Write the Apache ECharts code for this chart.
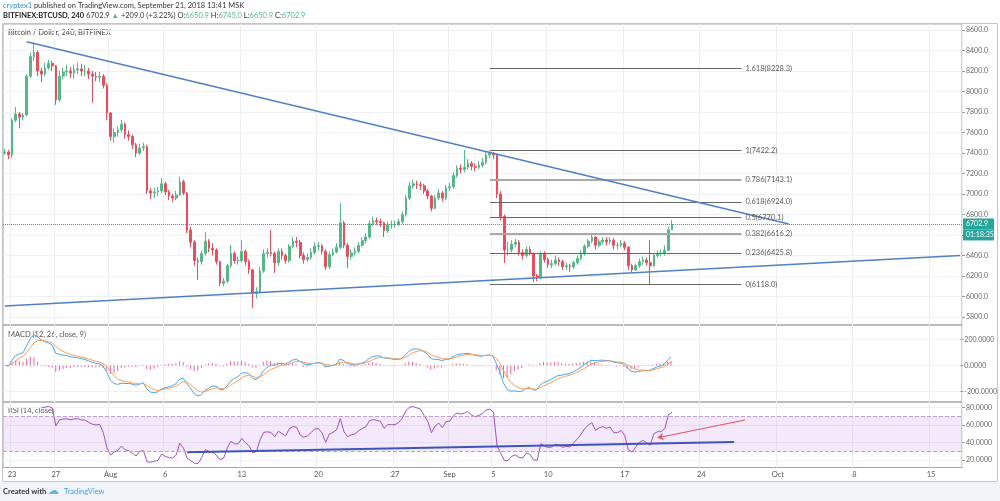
<!DOCTYPE html>
<html>
<head>
<meta charset="utf-8">
<title>BTCUSD 240</title>
<script src="https://cdn.jsdelivr.net/npm/echarts@6/dist/echarts.min.js"></script>
<style>
  html, body { margin: 0; padding: 0; background: #fff; }
  #chart { width: 1000px; height: 501px; }
</style>
</head>
<body>
<div id="chart"></div>
<script>
// bars, regrouped to 8h (first bar 2018-07-22 08:00 UTC)
var firstOpen = 7400
var closes = [
  7410, 7380, 7720, 7780, 7750, 7770, 8150, 8340, 8380, 8200,
  8170, 8230, 8275, 8250, 7920, 8150, 8190, 8200, 8180, 8210,
  8220, 8200, 8200, 8170, 8150, 8140, 8150, 8060, 7790, 7560,
  7600, 7625, 7680, 7580, 7560, 7480, 7400, 7450, 7460, 7030,
  7010, 7020, 7030, 7100, 7020, 6980, 6960, 6990, 7120, 7010,
  6650, 6530, 6350, 6340, 6420, 6540, 6470, 6454, 6340, 6130,
  6150, 6300, 6420, 6350, 6350, 6440, 6340, 6260, 6030, 6050,
  6250, 6420, 6430, 6420, 6330, 6440, 6400, 6350, 6490, 6540,
  6530, 6400, 6360, 6380, 6430, 6490, 6495, 6440, 6290, 6410,
  6435, 6480, 6720, 6500, 6390, 6425, 6440, 6500, 6545, 6580,
  6710, 6740, 6730, 6720, 6640, 6700, 6700, 6700, 6730, 6800,
  6960, 7080, 7100, 7090, 7080, 7030, 6980, 6860, 6960, 7010,
  6960, 7060, 7070, 7180, 7250, 7240, 7260, 7300, 7270, 7260,
  7280, 7310, 7380, 7397, 7380, 7000, 6780, 6454, 6454, 6510,
  6530, 6430, 6400, 6460, 6420, 6200, 6190, 6420, 6360, 6310,
  6320, 6356, 6340, 6290, 6300, 6290, 6330, 6370, 6420, 6490,
  6540, 6580, 6500, 6535, 6551, 6535, 6550, 6500, 6500, 6520,
  6480, 6300, 6260, 6300, 6340, 6356, 6330, 6300, 6400, 6420,
  6420, 6450, 6650.9, 6702.9
]
var highs = [
  7440, 7430, 7740, 7850, 7800, 7790, 8170, 8380, 8480, 8400,
  8230, 8280, 8310, 8300, 8260, 8200, 8230, 8260, 8240, 8260,
  8280, 8270, 8260, 8230, 8200, 8190, 8190, 8170, 8080, 7800,
  7640, 7660, 7722, 7700, 7620, 7580, 7500, 7490, 7500, 7480,
  7060, 7060, 7070, 7156, 7120, 7040, 7000, 7030, 7170, 7140,
  7020, 6680, 6550, 6380, 6450, 6629, 6560, 6520, 6470, 6350,
  6180, 6320, 6502, 6440, 6390, 6551, 6460, 6360, 6270, 6090,
  6290, 6460, 6470, 6649, 6440, 6470, 6470, 6420, 6510, 6580,
  6580, 6550, 6430, 6420, 6470, 6530, 6530, 6510, 6460, 6440,
  6470, 6520, 6912, 6740, 6520, 6460, 6480, 6530, 6580, 6620,
  6740, 6780, 6770, 6760, 6730, 6730, 6740, 6740, 6760, 6830,
  6990, 7120, 7140, 7130, 7120, 7100, 7050, 6990, 6990, 7050,
  7030, 7090, 7110, 7210, 7280, 7290, 7430, 7340, 7320, 7300,
  7320, 7350, 7410, 7420, 7410, 7390, 7030, 6800, 6530, 6550,
  6560, 6550, 6460, 6490, 6490, 6430, 6220, 6440, 6440, 6380,
  6360, 6400, 6380, 6360, 6330, 6320, 6350, 6400, 6450, 6510,
  6560, 6610, 6590, 6560, 6580, 6580, 6580, 6570, 6530, 6550,
  6540, 6490, 6320, 6320, 6370, 6390, 6380, 6551, 6420, 6450,
  6460, 6500, 6680, 6745
]
var lows = [
  7380, 7340, 7350, 7700, 7640, 7720, 7760, 8130, 8300, 8150,
  8090, 8150, 8210, 8200, 7870, 7900, 8120, 8150, 8130, 8120,
  8170, 8150, 8150, 8120, 7890, 8100, 8090, 8030, 7720, 7520,
  7500, 7560, 7600, 7540, 7520, 7440, 7360, 7380, 7420, 7000,
  6950, 6960, 6980, 7010, 6990, 6940, 6920, 6940, 6980, 6990,
  6620, 6480, 6300, 6161, 6310, 6400, 6430, 6400, 6310, 6100,
  6100, 6130, 6280, 6320, 6310, 6330, 6300, 6220, 5888, 5980,
  6030, 6230, 6380, 6390, 6230, 6300, 6360, 6320, 6330, 6470,
  6480, 6370, 6320, 6340, 6360, 6410, 6450, 6410, 6258, 6270,
  6390, 6420, 6460, 6470, 6278, 6360, 6400, 6420, 6480, 6520,
  6560, 6690, 6700, 6680, 6580, 6620, 6660, 6670, 6690, 6710,
  6780, 6940, 7050, 7050, 7040, 7000, 6950, 6830, 6850, 6940,
  6930, 6940, 7030, 7050, 7160, 7200, 7210, 7240, 7230, 7220,
  7240, 7260, 7290, 7350, 7340, 6960, 6740, 6327, 6400, 6430,
  6480, 6400, 6360, 6380, 6400, 6140, 6150, 6170, 6330, 6280,
  6280, 6300, 6300, 6260, 6260, 6240, 6270, 6310, 6350, 6400,
  6470, 6520, 6460, 6480, 6510, 6500, 6510, 6460, 6460, 6480,
  6450, 6260, 6240, 6250, 6280, 6310, 6300, 6112, 6290, 6380,
  6390, 6400, 6440, 6650.9
]
var lastPrice = 6702.9

// time axis ticks
var tickDates = ['2018-07-23', '2018-07-27', '2018-08-01', '2018-08-06', '2018-08-13',
  '2018-08-20', '2018-08-27', '2018-09-01', '2018-09-05', '2018-09-10', '2018-09-17',
  '2018-09-24', '2018-10-01', '2018-10-08', '2018-10-15']
var tickLabels = ['23', '27', 'Aug', '6', '13', '20', '27', 'Sep', '5', '10', '17', '24', 'Oct', '8', '15']

// fibonacci retracement
var fibRatios = ['1.618', '1', '0.786', '0.618', '0.5', '0.382', '0.236', '0']
var fibPrices = [8228.3, 7422.2, 7143.1, 6924.0, 6770.1, 6616.2, 6425.8, 6118.0]
var fibFrom = 133, fibTo = 202

// drawn trend lines, [bar index, value]
var downTrend = [[6, 8486], [215, 6707]]
var upTrend = [[0, 5908], [262, 6400]]
var rsiTrend = [[50, 28.8], [200, 40.4]]
var rsiArrow = [[203, 65.5], [179, 45.3]]

var SLOT = 8 * 3600 * 1000
var t0 = Date.UTC(2018, 6, 22, 8)
var categories = []
for (var i = 0; i < 263; i++) {
  categories.push(new Date(t0 + i * SLOT).toISOString().slice(0, 16).replace('T', ' '))
}
var tickKeys = tickDates.map(function (d) { return d + ' 00:00' })
function isTick(idx, val) { return tickKeys.indexOf(val) >= 0 }

var candles = closes.map(function (c, i) {
  var o = i ? closes[i - 1] : firstOpen
  return [o, c, lows[i], highs[i]]
})

// MACD 12/26/9 and RSI 14 of 4h bars, expressed on 8h bars
function ema(src, span) {
  var a = 2 / (span + 1), prev, out = []
  src.forEach(function (v, i) {
    prev = i ? prev + a * (v - prev) : v
    out.push(prev)
  })
  return out
}
var fast = ema(closes, 6.04)
var slow = ema(closes, 13)
var macd = fast.map(function (v, i) { return v - slow[i] })
var signal = ema(macd, 4.56)
var hist = macd.map(function (v, i) { return v - signal[i] })

function rsi(src, n) {
  var out = [], ag = 0, al = 0
  for (var i = 0; i < src.length; i++) {
    if (i === 0) { out.push('-'); continue }
    var ch = src[i] - src[i - 1]
    var g = Math.max(ch, 0), l = Math.max(-ch, 0)
    if (i <= n) {
      ag += g / n; al += l / n
      out.push(i === n ? 100 - 100 / (1 + ag / al) : '-')
    } else {
      ag = (ag * (n - 1) + g) / n
      al = (al * (n - 1) + l) / n
      out.push(al === 0 ? 100 : 100 - 100 / (1 + ag / al))
    }
  }
  return out
}
// the 8h bars hide the intrabar swings, so a slightly longer length keeps it as calm as the 4h one
var rsiValues = rsi(closes, 10)

var FONT = 'Lato'
var UP = '#53b987', DOWN = '#eb4d5c'

function xAxisFor(gridIndex, frame, labels) {
  return {
    type: 'category', gridIndex: gridIndex, data: categories, boundaryGap: true,
    show: frame,
    axisLine: { show: false },
    axisTick: { show: false },
    axisLabel: {
      show: labels, interval: isTick, margin: 3, fontSize: 7.5, color: '#555', fontFamily: FONT,
      formatter: function (val) { return tickLabels[tickKeys.indexOf(val)] }
    },
    splitLine: { show: frame, interval: isTick, lineStyle: { color: '#eceff3', width: 1 } }
  }
}
function priceAxis(gridIndex, min, max, interval, digits) {
  return {
    type: 'value', gridIndex: gridIndex, position: 'right', min: min, max: max, interval: interval,
    axisLine: { show: false },
    axisTick: { show: true, length: 3, lineStyle: { color: '#999' } },
    axisLabel: {
      margin: 4, fontSize: 7, color: '#666', fontFamily: FONT,
      formatter: function (v) { return v.toFixed(digits) }
    },
    splitLine: { show: true, lineStyle: { color: '#eef0f3' } }
  }
}
function frameAxis(gridIndex) {
  return { type: 'value', gridIndex: gridIndex, show: false, min: 0, max: 1, splitLine: { show: false } }
}
var frameGrid = { show: true, borderColor: '#a5a5a5', borderWidth: 1, left: 3, right: 38 }

var fibLines = fibPrices.map(function (p, i) {
  var light = fibRatios[i] === '0.786' || fibRatios[i] === '0.382'
  return [
    {
      coord: [fibFrom, p],
      lineStyle: { color: light ? '#a8a8a8' : '#666', width: light ? 2 : 1, type: 'solid' },
      label: {
        show: true, position: 'end', distance: 4, formatter: fibRatios[i] + '(' + p.toFixed(1) + ')',
        fontSize: 7.5, color: '#555', fontFamily: FONT
      }
    },
    { coord: [fibTo, p] }
  ]
})
var trendStyle = { color: '#4f80c4', width: 1.5, type: 'solid' }

var option = {
  animation: false,
  backgroundColor: '#fff',
  textStyle: { fontFamily: FONT },
  grid: [
    Object.assign({ top: 24, height: 301 }, frameGrid),
    { left: 3, right: 38, top: 30, height: 287 },
    Object.assign({ top: 325, height: 77 }, frameGrid),
    { left: 3, right: 38, top: 339.5, height: 52 },
    Object.assign({ top: 402, height: 65.5 }, frameGrid),
    { left: 3, right: 38, top: 407.3, height: 52.7 }
  ],
  xAxis: [
    xAxisFor(0, true, false), xAxisFor(1, false, false),
    xAxisFor(2, true, false), xAxisFor(3, false, false),
    xAxisFor(4, true, true), xAxisFor(5, false, false)
  ],
  yAxis: [
    frameAxis(0), priceAxis(1, 5800, 8600, 200, 1),
    frameAxis(2), priceAxis(3, -200, 200, 200, 4),
    frameAxis(4), priceAxis(5, 20, 80, 20, 4)
  ],
  series: [
    {
      type: 'candlestick', xAxisIndex: 1, yAxisIndex: 1, data: candles, barWidth: '60%',
      itemStyle: { color: UP, color0: DOWN, borderColor: UP, borderColor0: DOWN, borderWidth: 1 },
      markLine: {
        silent: true, symbol: ['none', 'none'], animation: false,
        label: { show: false },
        data: fibLines.concat([
          [{ coord: downTrend[0], lineStyle: trendStyle }, { coord: downTrend[1] }],
          [{ coord: upTrend[0], lineStyle: trendStyle }, { coord: upTrend[1] }],
          {
            yAxis: lastPrice,
            lineStyle: { color: '#26a69a', type: 'dotted', width: 1 },
            label: {
              show: true, position: 'end', distance: 1, padding: [10, 0, 0, 0],
              formatter: '{p|' + lastPrice.toFixed(1) + '}\n{t|01:18:35}',
              rich: {
                p: { backgroundColor: '#26a69a', color: '#fff', fontSize: 7, padding: [2, 3], width: 25, fontFamily: FONT },
                t: { backgroundColor: '#26a69a', color: '#fff', fontSize: 7, padding: [2, 3], width: 25, fontFamily: FONT }
              }
            }
          }
        ])
      }
    },
    {
      type: 'bar', name: 'hist', xAxisIndex: 3, yAxisIndex: 3, data: hist, barWidth: 1, clip: false,
      itemStyle: { color: '#ee6496' }
    },
    {
      type: 'line', name: 'macd', xAxisIndex: 3, yAxisIndex: 3, data: macd, showSymbol: false, clip: false,
      lineStyle: { color: '#47a6e8', width: 1 }
    },
    {
      type: 'line', name: 'signal', xAxisIndex: 3, yAxisIndex: 3, data: signal, showSymbol: false, clip: false,
      lineStyle: { color: '#f4a05a', width: 1 }
    },
    {
      type: 'line', name: 'rsi', xAxisIndex: 5, yAxisIndex: 5, data: rsiValues, showSymbol: false, clip: false,
      lineStyle: { color: '#a14fc2', width: 1 },
      markArea: {
        silent: true,
        itemStyle: { color: 'rgba(200,140,235,0.2)' },
        data: [[{ yAxis: 30 }, { yAxis: 70 }]]
      },
      markLine: {
        silent: true, symbol: ['none', 'none'], animation: false,
        label: { show: false },
        data: [
          { yAxis: 70, lineStyle: { color: '#bba3c9', type: 'dashed', width: 1 } },
          { yAxis: 30, lineStyle: { color: '#bba3c9', type: 'dashed', width: 1 } },
          [{ coord: rsiTrend[0], lineStyle: { color: '#3d55b8', width: 2, type: 'solid' } }, { coord: rsiTrend[1] }],
          [{ coord: rsiArrow[0], lineStyle: { color: '#e8575b', width: 1.2, type: 'solid' } },
            { coord: rsiArrow[1], symbol: 'arrow', symbolSize: 6 }]
        ]
      }
    }
  ],
  graphic: [
    { type: 'rect', silent: true, z: -1, shape: { x: 0, y: 482, width: 1000, height: 19 }, style: { fill: '#f0f3f8' } },
    { type: 'rect', silent: true, shape: { x: 2.5, y: 23.5, width: 995, height: 458 }, style: { fill: 'none', stroke: '#c4c4c4', lineWidth: 1 } },
    {
      type: 'text', x: 3, y: 6, silent: true,
      style: {
        text: '{u|cryptex1}{n| published on TradingView.com, September 21, 2018 13:41 MSK}',
        verticalAlign: 'middle', fontFamily: FONT,
        rich: { u: { fill: '#2a8fe0', fontSize: 7.5, fontFamily: FONT }, n: { fill: '#333', fontSize: 7.5, fontFamily: FONT } }
      }
    },
    {
      type: 'text', x: 3, y: 16, silent: true,
      style: {
        text: '{b|BITFINEX:BTCUSD, 240}{n| 6702.9 }{g|\u25B2}{n| +209.0 (+3.22%) O:}{g|6650.9}{n| H:}{g|6745.0}{n| L:}{g|6650.9}{n| C:}{g|6702.9}',
        verticalAlign: 'middle', fontFamily: FONT,
        rich: {
          b: { fill: '#222', fontSize: 7.5, fontWeight: 'bold', fontFamily: FONT },
          n: { fill: '#333', fontSize: 7.5, fontFamily: FONT },
          g: { fill: UP, fontSize: 7.5, fontFamily: FONT }
        }
      }
    },
    { type: 'text', x: 8, y: 33, silent: true, style: { text: 'Bitcoin / Dollar, 240, BITFINEX', fill: '#444', fontSize: 7.5, fontFamily: FONT, verticalAlign: 'middle' } },
    { type: 'text', x: 8, y: 335, silent: true, style: { text: 'MACD (12, 26, close, 9)', fill: '#555', fontSize: 7.5, fontFamily: FONT, verticalAlign: 'middle' } },
    { type: 'text', x: 8, y: 411, silent: true, style: { text: 'RSI (14, close)', fill: '#555', fontSize: 7.5, fontFamily: FONT, verticalAlign: 'middle' } },
    { type: 'text', x: 3, y: 491.5, silent: true, style: { text: 'Created with', fill: '#333', fontSize: 7.5, fontWeight: 'bold', fontFamily: FONT, verticalAlign: 'middle' } },
    { type: 'text', x: 48, y: 491, silent: true, style: { text: '\u2601', fill: '#62b3e6', fontSize: 11, fontFamily: 'DejaVu Sans', verticalAlign: 'middle' } },
    { type: 'text', x: 64, y: 491.5, silent: true, style: { text: 'TradingView', fill: '#4aa3df', fontSize: 7.5, fontFamily: FONT, verticalAlign: 'middle' } }
  ]
}

var chart = echarts.init(document.getElementById('chart'))
chart.setOption(option)
</script>
</body>
</html>
